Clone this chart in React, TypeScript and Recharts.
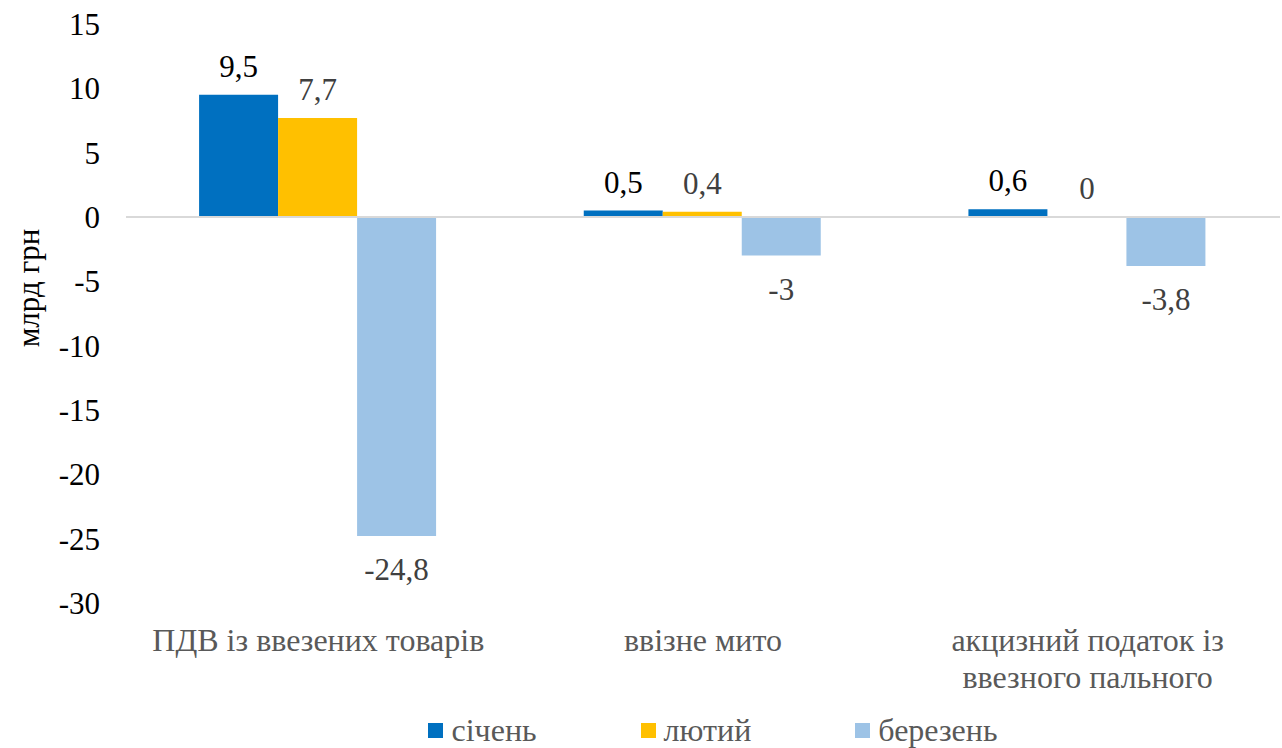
import { BarChart, Bar, XAxis, YAxis, ReferenceLine, Legend } from 'recharts';

const categories = ['ПДВ із ввезених товарів', 'ввізне мито', 'акцизний податок із\nввезного пального'];
const sichen = [9.5, 0.5, 0.6];
const lyutyi = [7.7, 0.4, 0];
const berezen = [-24.8, -3, -3.8];
const yTicks = [-30, -25, -20, -15, -10, -5, 0, 5, 10, 15];

const series = [
  { key: 'січень', color: '#0070C0', labelColor: '#000000' },
  { key: 'лютий', color: '#FFC000', labelColor: '#404040' },
  { key: 'березень', color: '#9DC3E6', labelColor: '#404040' },
];

const data = categories.map((name, i) => ({
  name,
  'січень': sichen[i],
  'лютий': lyutyi[i],
  'березень': berezen[i],
}));

const FONT = '"Liberation Serif", "Times New Roman", serif';

function CategoryTick({ x, y, payload }: any) {
  const lines = String(payload.value).split('\n');
  return (
    <text x={x} y={y} textAnchor="middle" fill="#595959" fontSize={32} fontFamily={FONT}>
      {lines.map((l, i) => (
        <tspan key={i} x={x} y={y + 40 + i * 37}>{l}</tspan>
      ))}
    </text>
  );
}

function makeLabel(color: string) {
  return (props: any) => {
    const { x, y, width, height, value } = props;
    const top = Math.min(y, y + height);
    const bottom = Math.max(y, y + height);
    const cy = value < 0 ? bottom + 34 : top - 28;
    return (
      <text x={x + width / 2} y={cy + 10} textAnchor="middle" fill={color} fontSize={31} fontFamily={FONT}>
        {String(value).replace('.', ',')}
      </text>
    );
  };
}

function YTitle() {
  return (
    <text x={28} y={288} transform="rotate(-90, 28, 288)" textAnchor="middle" dominantBaseline="central"
      fill="#000" fontSize={31} fontFamily={FONT}>
      млрд грн
    </text>
  );
}

function LegendBox() {
  return (
    <div style={{
      display: 'flex', justifyContent: 'center', fontFamily: FONT, fontSize: 32, color: '#595959',
      paddingLeft: 120, position: 'relative', top: 9,
    }}>
      {series.map((s) => (
        <div key={s.key} style={{ display: 'flex', alignItems: 'center', margin: '0 52px' }}>
          <span style={{ width: 15, height: 15, background: s.color, display: 'inline-block', marginRight: 8 }} />
          <span>{s.key}</span>
        </div>
      ))}
    </div>
  );
}

export default function App() {
  return (
    <div style={{ position: 'absolute', left: 0, top: 0, width: 1282, height: 748, background: '#fff', fontFamily: FONT }}>
      <BarChart
        width={1282}
        height={748}
        data={data}
        margin={{ top: 24, right: 2, bottom: 0, left: 26 }}
        barCategoryGap="19%"
        barGap={0}
      >
        <XAxis
          dataKey="name"
          axisLine={false}
          tickLine={false}
          interval={0}
          height={100}
          tick={<CategoryTick />}
        />
        <YAxis
          domain={[-30, 15]}
          ticks={yTicks}
          interval={0}
          width={100}
          axisLine={false}
          tickLine={false}
          tickMargin={20}
          tick={{ fill: '#000', fontSize: 31, fontFamily: FONT }}
          label={{ content: () => <YTitle /> }}
        />
        <ReferenceLine y={0} stroke="#D9D9D9" strokeWidth={2} />
        <Legend verticalAlign="bottom" height={45} content={<LegendBox />} />
        {series.map((s) => (
          <Bar
            key={s.key}
            dataKey={s.key}
            fill={s.color}
            isAnimationActive={false}
            minPointSize={(v: number) => (v === 0 ? 0.01 : 0)}
            label={makeLabel(s.labelColor)}
          />
        ))}
      </BarChart>
    </div>
  );
}
